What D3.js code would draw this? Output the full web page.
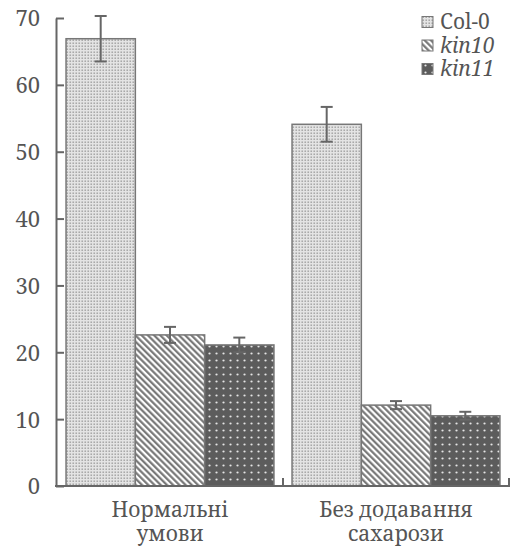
<!DOCTYPE html>
<html>
<head>
<meta charset="utf-8">
<script src="https://cdn.jsdelivr.net/npm/d3@7"></script>
<style>
    body { margin: 0; background: #fff; }
</style>
</head>
<body>
<div id="chart"></div>
<script>
// data
const categories = ['Нормальні умови', 'Без додавання сахарози'];
const categoryLines = [['Нормальні', 'умови'], ['Без додавання', 'сахарози']];
const series = ['Col-0', 'kin10', 'kin11'];
const valuesNormal = [66.9, 22.6, 21.1];
const valuesNoSucrose = [54.1, 12.1, 10.5];
const errNormal = [3.4, 1.2, 1.1];
const errNoSucrose = [2.6, 0.6, 0.6];
const yTicks = [0, 10, 20, 30, 40, 50, 60, 70];

const serif = '"Noto Serif", "Liberation Serif", serif';

class groupedBars {
    constructor() {
        this.width = 517;
        this.height = 548;
        this.margin = { l: 56, r: 8, t: 18, b: 62 };
        this.ink = '#666';
        this.textColor = '#555';

        this.data = categories.map((c, i) => ({
            key: c,
            lines: categoryLines[i],
            bars: series.map((s, j) => ({
                key: s,
                value: i === 0 ? valuesNormal[j] : valuesNoSucrose[j],
                err: i === 0 ? errNormal[j] : errNoSucrose[j]
            }))
        }));

        this.svg = d3.select('#chart')
            .append('svg')
            .attr('width', this.width)
            .attr('height', this.height);

        this.scaleY = d3.scaleLinear()
            .domain([0, 70])
            .range([this.height - this.margin.b, this.margin.t]);

        this.scaleX0 = d3.scaleBand()
            .domain(categories)
            .range([this.margin.l + 1, this.width - this.margin.r])
            .paddingInner(0.08)
            .paddingOuter(0.04);

        this.scaleX1 = d3.scaleBand()
            .domain(series)
            .range([0, this.scaleX0.bandwidth()]);

        this.createPatterns();
        this.createBars();
        this.createAxes();
        this.createLegend();
    }

    createPatterns() {
        const defs = this.svg.append('defs');

        // Col-0: fine light stipple
        const p0 = defs.append('pattern')
            .attr('id', 'pat-Col-0')
            .attr('patternUnits', 'userSpaceOnUse')
            .attr('width', 3).attr('height', 3);
        p0.append('rect').attr('width', 3).attr('height', 3).attr('fill', '#e4e4e4');
        p0.append('rect').attr('x', 0.5).attr('y', 0.5).attr('width', 1.4).attr('height', 1.4).attr('fill', '#9a9a9a');

        // kin10: diagonal hatching
        const p1 = defs.append('pattern')
            .attr('id', 'pat-kin10')
            .attr('patternUnits', 'userSpaceOnUse')
            .attr('width', 4.4).attr('height', 4.4)
            .attr('patternTransform', 'rotate(-45)');
        p1.append('rect').attr('width', 4.4).attr('height', 4.4).attr('fill', '#fff');
        p1.append('line')
            .attr('x1', 1.2).attr('x2', 1.2)
            .attr('y1', 0).attr('y2', 4.4)
            .attr('stroke', '#707070')
            .attr('stroke-width', 2.1);

        // kin11: dark with white dots
        const p2 = defs.append('pattern')
            .attr('id', 'pat-kin11')
            .attr('patternUnits', 'userSpaceOnUse')
            .attr('width', 7).attr('height', 7);
        p2.append('rect').attr('width', 7).attr('height', 7).attr('fill', '#5c5c5c');
        p2.append('circle').attr('cx', 3.5).attr('cy', 3.5).attr('r', 1.1).attr('fill', '#e8e8e8');
    }

    createBars() {
        const group = this.svg.selectAll('.group')
            .data(this.data)
            .join('g')
            .attr('class', 'group')
            .attr('transform', d => `translate(${this.scaleX0(d.key)},0)`);

        group.selectAll('rect')
            .data(d => d.bars)
            .join('rect')
            .attr('x', d => this.scaleX1(d.key))
            .attr('y', d => this.scaleY(d.value))
            .attr('width', this.scaleX1.bandwidth())
            .attr('height', d => this.scaleY(0) - this.scaleY(d.value))
            .attr('fill', d => `url(#pat-${d.key})`)
            .attr('stroke', '#777')
            .attr('stroke-width', 1.5);

        // error bars
        const err = group.selectAll('.err')
            .data(d => d.bars)
            .join('g')
            .attr('class', 'err')
            .attr('transform', d => `translate(${this.scaleX1(d.key) + this.scaleX1.bandwidth() / 2},0)`)
            .attr('stroke', this.ink)
            .attr('stroke-width', 2);

        err.append('line')
            .attr('y1', d => this.scaleY(d.value + d.err))
            .attr('y2', d => this.scaleY(d.value - d.err));
        err.append('line')
            .attr('x1', -6).attr('x2', 6)
            .attr('y1', d => this.scaleY(d.value + d.err))
            .attr('y2', d => this.scaleY(d.value + d.err));
        err.append('line')
            .attr('x1', -6).attr('x2', 6)
            .attr('y1', d => this.scaleY(d.value - d.err))
            .attr('y2', d => this.scaleY(d.value - d.err));
    }

    createAxes() {
        const axisY = d3.axisLeft(this.scaleY)
            .tickValues(yTicks)
            .tickSizeInner(-8)
            .tickSizeOuter(0)
            .tickPadding(16);

        const gy = this.svg.append('g')
            .attr('class', 'axis axis-y')
            .attr('transform', `translate(${this.margin.l},0)`)
            .call(axisY);
        gy.select('.domain').attr('stroke', this.ink).attr('stroke-width', 2);
        gy.selectAll('.tick line').attr('stroke', this.ink).attr('stroke-width', 2);
        gy.selectAll('.tick text')
            .attr('font-family', serif)
            .attr('font-size', 22)
            .attr('dy', '0.36em')
            .attr('fill', this.textColor);

        // x axis baseline with small upward ticks between groups
        const y0 = this.scaleY(0);
        const gx = this.svg.append('g').attr('class', 'axis axis-x');
        gx.append('line')
            .attr('x1', this.margin.l - 1)
            .attr('x2', this.width - this.margin.r + 1)
            .attr('y1', y0).attr('y2', y0)
            .attr('stroke', this.ink)
            .attr('stroke-width', 2);

        const half = this.scaleX0.step() * this.scaleX0.paddingInner() / 2;
        gx.selectAll('.xtick')
            .data(categories)
            .join('line')
            .attr('class', 'xtick')
            .attr('x1', d => this.scaleX0(d) + this.scaleX0.bandwidth() + half)
            .attr('x2', d => this.scaleX0(d) + this.scaleX0.bandwidth() + half)
            .attr('y1', y0).attr('y2', y0 - 8)
            .attr('stroke', this.ink)
            .attr('stroke-width', 2);

        gx.selectAll('.xlabel')
            .data(this.data)
            .join('text')
            .attr('class', 'xlabel')
            .attr('text-anchor', 'middle')
            .attr('font-family', serif)
            .attr('font-size', 21)
            .attr('fill', this.textColor)
            .selectAll('tspan')
            .data(d => d.lines.map((l, i) => ({ l, i, x: this.scaleX0(d.key) + this.scaleX0.bandwidth() / 2 })))
            .join('tspan')
            .attr('x', d => d.x)
            .attr('y', d => y0 + 31 + d.i * 24)
            .text(d => d.l);
    }

    createLegend() {
        const legend = this.svg.append('g')
            .attr('class', 'legend')
            .attr('transform', 'translate(422,0)');

        const row = legend.selectAll('.row')
            .data(series)
            .join('g')
            .attr('class', 'row')
            .attr('transform', (d, i) => `translate(0,${22 + i * 23.5})`);

        row.append('rect')
            .attr('x', 0).attr('y', -5.5)
            .attr('width', 11).attr('height', 11)
            .attr('fill', d => `url(#pat-${d})`)
            .attr('stroke', '#777')
            .attr('stroke-width', 1);

        row.append('text')
            .attr('x', 18)
            .attr('y', 7)
            .attr('font-family', serif)
            .attr('font-size', 21)
            .attr('fill', this.textColor)
            .attr('font-style', (d, i) => i === 0 ? 'normal' : 'italic')
            .text(d => d);
    }
}

new groupedBars();
</script>
</body>
</html>
